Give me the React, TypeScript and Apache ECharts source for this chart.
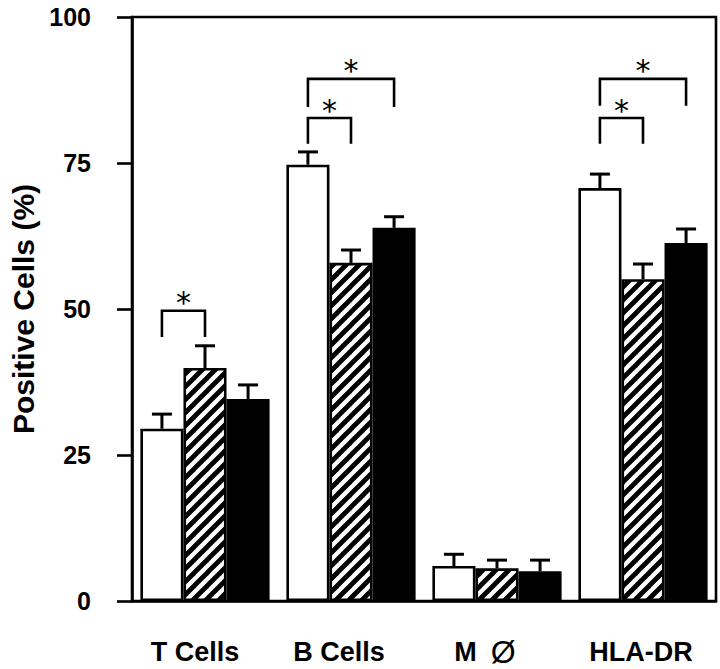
import React, { useEffect, useRef } from "react";
import * as echarts from "echarts";

const categories = ["T Cells", "B Cells", "M Ø", "HLA-DR"];
const yTicks = [0, 25, 50, 75, 100];

const openValues = [29.5, 74.7, 6.0, 70.7];
const openErrors = [2.5, 2.2, 2.0, 2.4];
const hatchedValues = [39.9, 57.9, 5.6, 55.1];
const hatchedErrors = [3.8, 2.2, 1.4, 2.6];
const solidValues = [34.6, 63.9, 5.1, 61.3];
const solidErrors = [2.4, 1.9, 1.9, 2.4];

// [category index, from bar, to bar, bracket top, leg bottom]
const brackets = [
  [0, 0, 1, 49.7, 45.2],
  [1, 0, 2, 89.4, 84.6],
  [1, 0, 1, 82.7, 78.3],
  [3, 0, 2, 89.4, 84.8],
  [3, 0, 1, 82.7, 78.3],
];

const BAR_FRACTION = 0.295;
const LW = 2.6;
const FONT = "'Liberation Sans', Arial, Helvetica, sans-serif";

function makeHatch(): HTMLCanvasElement {
  const s = 13;
  const c = document.createElement("canvas");
  c.width = s;
  c.height = s;
  const ctx = c.getContext("2d")!;
  ctx.fillStyle = "#fff";
  ctx.fillRect(0, 0, s, s);
  ctx.strokeStyle = "#000";
  ctx.lineWidth = 4.8;
  ctx.lineCap = "square";
  for (const off of [-s, 0, s]) {
    ctx.beginPath();
    ctx.moveTo(off - 3, s + 3);
    ctx.lineTo(off + s + 3, -3);
    ctx.stroke();
  }
  return c;
}

export default function App() {
  const ref = useRef<HTMLDivElement>(null);

  useEffect(() => {
    if (!ref.current) return;
    const chart = echarts.init(ref.current, undefined, { renderer: "svg" });

    const errData: number[][] = [];
    [openValues, hatchedValues, solidValues].forEach((vals, b) => {
      const errs = [openErrors, hatchedErrors, solidErrors][b];
      vals.forEach((v, i) => errData.push([i, b, v, v + errs[i]]));
    });

    const barBase = {
      type: "bar" as const,
      barWidth: BAR_FRACTION * 100 + "%",
      barGap: "0%",
      itemStyle: { borderColor: "#000", borderWidth: LW },
      silent: true,
    };

    const labelShift = [20, 24, 14, 4];
    const rich: any = {};
    labelShift.forEach((p, i) => {
      rich["l" + i] = {
        fontFamily: FONT,
        fontWeight: "bold",
        fontSize: 27,
        lineHeight: 30,
        color: "#000",
        padding: [0, p, 0, 0],
      };
    });
    rich.m = { fontFamily: FONT, fontWeight: "bold", fontSize: 27, lineHeight: 30, color: "#000" };
    rich.o = {
      fontFamily: FONT,
      fontWeight: "normal",
      fontSize: 32,
      lineHeight: 30,
      color: "#000",
      padding: [0, 24, 0, 14],
    };

    chart.setOption({
      animation: false,
      grid: {
        left: 132,
        right: 4,
        top: 17,
        bottom: 68,
        show: true,
        borderColor: "#000",
        borderWidth: LW,
        backgroundColor: "transparent",
        containLabel: false,
        outerBoundsMode: "none",
      },
      xAxis: {
        type: "category",
        data: categories,
        axisLine: { lineStyle: { color: "#000", width: LW } },
        axisTick: { show: false },
        axisLabel: {
          interval: 0,
          hideOverlap: false,
          color: "#000",
          fontFamily: FONT,
          fontWeight: "bold",
          fontSize: 27,
          margin: 36,
          rich,
          formatter: (v: string, i: number) => {
            if (v.indexOf("Ø") >= 0) {
              const parts = v.split(" ");
              return `{m|${parts[0]}}{o|${parts[1]}}`;
            }
            return `{l${i}|${v}}`;
          },
        },
      },
      yAxis: {
        type: "value",
        min: 0,
        max: 100,
        interval: 25,
        name: "Positive Cells (%)",
        nameLocation: "middle",
        nameGap: 88,
        nameRotate: 90,
        nameTextStyle: {
          color: "#000",
          fontFamily: FONT,
          fontWeight: "bold",
          fontSize: 30,
        },
        axisLine: { show: true, lineStyle: { color: "#000", width: LW } },
        axisTick: { show: true, inside: false, length: 15, lineStyle: { color: "#000", width: LW } },
        splitLine: { show: false },
        axisLabel: {
          color: "#000",
          fontFamily: FONT,
          fontWeight: "bold",
          fontSize: 25,
          margin: 41,
          formatter: (v: number) => (yTicks.includes(v) ? String(v) : ""),
        },
      },
      series: [
        { ...barBase, name: "open", data: openValues, itemStyle: { ...barBase.itemStyle, color: "#fff" } },
        {
          ...barBase,
          name: "hatched",
          data: hatchedValues,
          itemStyle: { ...barBase.itemStyle, color: { image: makeHatch(), repeat: "repeat" } },
        },
        { ...barBase, name: "solid", data: solidValues, itemStyle: { ...barBase.itemStyle, color: "#000" } },
        {
          type: "custom",
          name: "errors",
          silent: true,
          data: errData,
          renderItem: (params: any, api: any) => {
            const cat = api.value(0);
            const b = api.value(1);
            const band = api.size([1, 0])[0];
            const w = band * BAR_FRACTION;
            const x = api.coord([cat, 0])[0] + (b - 1) * w;
            const y0 = api.coord([cat, api.value(2)])[1];
            const y1 = api.coord([cat, api.value(3)])[1];
            const style = { stroke: "#000", lineWidth: LW + 0.4 };
            return {
              type: "group",
              children: [
                { type: "line", shape: { x1: x, y1: y0, x2: x, y2: y1 }, style },
                { type: "line", shape: { x1: x - 10, y1: y1, x2: x + 10, y2: y1 }, style },
              ],
            };
          },
        },
        {
          type: "custom",
          name: "brackets",
          silent: true,
          data: brackets,
          renderItem: (params: any, api: any) => {
            const cat = api.value(0);
            const from = api.value(1);
            const to = api.value(2);
            const band = api.size([1, 0])[0];
            const w = band * BAR_FRACTION;
            const cx = api.coord([cat, 0])[0];
            const xa = cx + (from - 1) * w;
            const xb = cx + (to - 1) * w;
            const yt = api.coord([cat, api.value(3)])[1];
            const yl = api.coord([cat, api.value(4)])[1];
            const style = { stroke: "#000", lineWidth: LW, fill: "none" };
            return {
              type: "group",
              children: [
                {
                  type: "polyline",
                  shape: { points: [[xa, yl], [xa, yt], [xb, yt], [xb, yl]] },
                  style,
                },
                {
                  type: "text",
                  x: (xa + xb) / 2,
                  y: yt - 8,
                  style: {
                    text: "*",
                    fill: "#000",
                    font: "30px 'DejaVu Sans'",
                    textAlign: "center",
                    textVerticalAlign: "middle",
                  },
                },
              ],
            };
          },
        },
      ],
    });

    return () => chart.dispose();
  }, []);

  return (
    <div
      ref={ref}
      style={{ position: "absolute", left: 0, top: 0, width: 720, height: 669, background: "#fff" }}
    />
  );
}
